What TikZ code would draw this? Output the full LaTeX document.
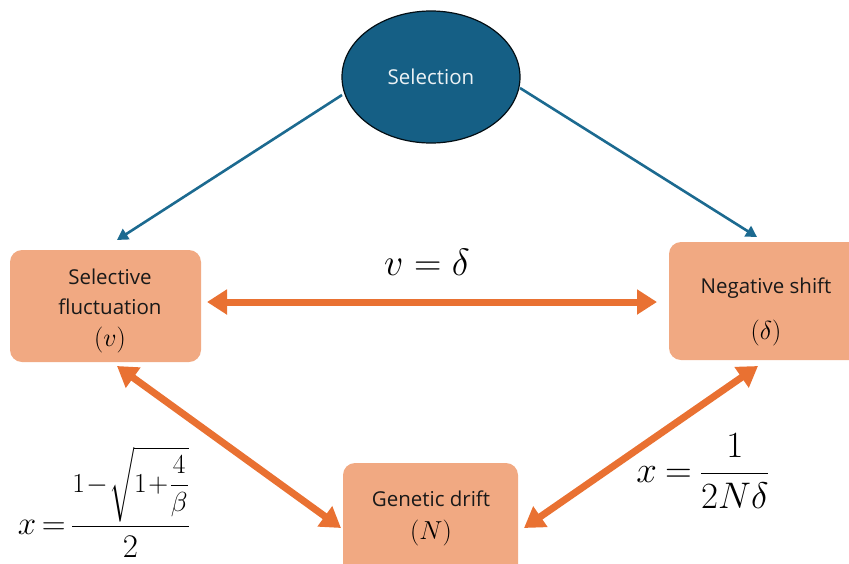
\RequirePackage{fix-cm}
\documentclass[tikz,border=0pt]{standalone}
\usepackage{amsmath}
\usepackage{fontspec}
\setsansfont{Open Sans}
\usetikzlibrary{shapes.geometric,arrows.meta}
\definecolor{selblue}{HTML}{155F85}
\definecolor{selline}{HTML}{1C6A90}
\definecolor{boxfill}{HTML}{F1A982}
\definecolor{arrorange}{HTML}{E97132}
\tikzset{
  box/.style={fill=boxfill, rounded corners=12pt, draw=none},
  lbl/.style={font=\sffamily\fontsize{20.5}{30}\selectfont, align=center, text=black!90},
  boxmath/.style={font=\fontsize{26}{28}\selectfont},
  bluearrow/.style={draw=selline, line width=2.6pt, -{Triangle[length=11pt,width=12pt]}},
  orangearrow/.style={draw=arrorange, line width=7pt, {Triangle[length=20pt,width=24pt]}-{Triangle[length=20pt,width=24pt]}},
}
\begin{document}
\begin{tikzpicture}[x=1pt,y=-1pt]
\useasboundingbox (0,0) rectangle (849,563);
\clip (0,0) rectangle (849,563);
% nodes
\node[ellipse, draw=black!85!selblue, line width=1.2pt, fill=selblue, minimum width=178pt, minimum height=132pt, inner sep=0pt, font=\sffamily\fontsize{20.5}{24}\selectfont, text=white!92!selblue] (sel) at (431,77) {Selection};
\node[box, minimum width=191pt, minimum height=112pt, inner sep=0pt] (sf) at (105.5,306) {};
\node[box, minimum width=200pt, minimum height=118pt, inner sep=0pt] (ns) at (769,301) {};
\node[box, minimum width=175pt, minimum height=120pt, inner sep=0pt] (gd) at (430.5,523) {};
% box texts
\node[lbl] (sft) at (110,292) {Selective\\fluctuation};
\node[boxmath] (sfm) at (110,340) {$(v)$};
\node[lbl] (nst) at (766,288) {Negative shift};
\node[boxmath] (nsm) at (766,333) {$(\delta)$};
\node[lbl] (gdt) at (431,499) {Genetic drift};
\node[boxmath] (gdm) at (431,533) {$(N)$};
% connector end points
\coordinate (a1s) at (342,95);
\coordinate (a1e) at (117,240);
\coordinate (a2s) at (520,88);
\coordinate (a2e) at (757,237);
\coordinate (h1) at (207,302);
\coordinate (h2) at (657,302);
\coordinate (d1) at (117,366);
\coordinate (d2) at (341,528);
\coordinate (e1) at (524,528);
\coordinate (e2) at (758,366);
\draw[bluearrow] (a1s) -- (a1e);
\draw[bluearrow] (a2s) -- (a2e);
\draw[orangearrow] (h1) -- (h2);
\draw[orangearrow] (d1) -- (d2);
\draw[orangearrow] (e1) -- (e2);
% formulas
\node[font=\fontsize{38}{40}\selectfont] (eq1) at (427,262) {$v=\delta$};
\node[font=\fontsize{37}{40}\selectfont] (eq2) at (703,471) {$\thickmuskip=4mu x=\dfrac{1}{2N\delta}$};
\node[font=\fontsize{33}{36}\selectfont, inner sep=1pt] (eq3) at (104,502) {$\thickmuskip=3mu x=\dfrac{\mbox{\fontsize{27.5}{32}\selectfont$\medmuskip=1mu 1-\sqrt{1+\dfrac{4}{\beta}}$}}{2}$};
\end{tikzpicture}
\end{document}
